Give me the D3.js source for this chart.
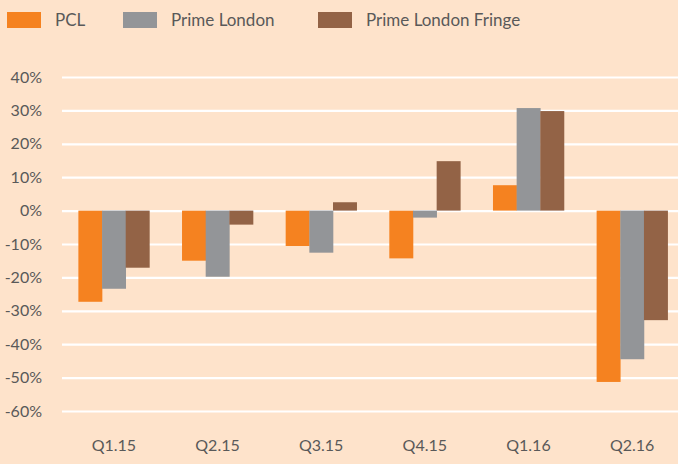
<!DOCTYPE html>
<html>
<head>
<meta charset="utf-8">
<script src="https://cdn.jsdelivr.net/npm/d3@7"></script>
<style>
  html, body { margin: 0; padding: 0; background: #fee3cb; }
  svg { display: block; font-family: Lato, 'Open Sans', sans-serif; }
</style>
</head>
<body>
<svg id="chart" width="678" height="464"></svg>
<script>
// MARK: Data.

const quarters    = ['Q1.15', 'Q2.15', 'Q3.15', 'Q4.15', 'Q1.16', 'Q2.16']
const seriesNames = ['PCL', 'Prime London', 'Prime London Fringe']
const pcl         = [-27.3, -15.0, -10.6, -14.3,  7.6, -51.3]
const primeLondon = [-23.4, -19.8, -12.6,  -2.1, 30.7, -44.5]
const primeFringe = [-17.1,  -4.2,   2.5,  14.8, 29.8, -32.8]
const yTicks      = [40, 30, 20, 10, 0, -10, -20, -30, -40, -50, -60]

const COLORS     = ['#f58220', '#939598', '#936346']
const TEXT_COLOR = '#595959'

const svg    = d3.select('#chart')
const width  = 678

const series = [pcl, primeLondon, primeFringe]
const rows = quarters.map((q, i) => ({
  quarter: q,
  values : series.map((s, k) => ({ key: seriesNames[k], value: s[i] })),
}))

// MARK: Scales.

const x0 = d3.scaleBand()
  .domain(quarters)
  .range([62, 684])
  .paddingInner(0.315)
  .paddingOuter(0.158)

const x1 = d3.scaleBand()
  .domain(seriesNames)
  .range([0, x0.bandwidth()])

const y = d3.scaleLinear()
  .domain([-60, 40])
  .range([411, 77])

const color = d3.scaleOrdinal().domain(seriesNames).range(COLORS)

// MARK: Gridlines and y labels.

const yAxis = svg.append('g')
  .attr('transform', 'translate(62,0)')
  .call(d3.axisLeft(y).tickValues(yTicks).tickSize(-(width - 62)).tickPadding(20)
    .tickFormat((d) => d + '%'))
yAxis.select('.domain').remove()
yAxis.selectAll('line')
  .attr('stroke', '#ffffff')
  .attr('stroke-width', 2.2)
yAxis.selectAll('text')
  .attr('fill', TEXT_COLOR)
  .attr('font-size', 16)
  .attr('font-family', 'Lato, sans-serif')

// MARK: Bars.

const groups = svg.append('g').selectAll('g')
  .data(rows).enter()
  .append('g')
    .attr('transform', (d) => `translate(${x0(d.quarter)},0)`)

groups.selectAll('rect')
  .data((d) => d.values).enter()
  .append('rect')
    .attr('x'     , (d) => x1(d.key))
    .attr('width' , x1.bandwidth() + 0.3)
    .attr('y'     , (d) => y(Math.max(0, d.value)))
    .attr('height', (d) => Math.abs(y(d.value) - y(0)))
    .attr('fill'  , (d) => color(d.key))

// MARK: x labels.

const xAxis = svg.append('g')
  .attr('transform', 'translate(0,440)')
  .call(d3.axisBottom(x0).tickSize(0).tickPadding(0))
xAxis.select('.domain').remove()
xAxis.selectAll('text')
  .attr('fill', TEXT_COLOR)
  .attr('font-size', 16)
  .attr('font-family', 'Lato, sans-serif')
  .attr('dy', '0.71em')

// MARK: Legend.

const legendX = [7, 123, 318]
const legend = svg.append('g').selectAll('g')
  .data(seriesNames).enter()
  .append('g')
    .attr('transform', (d, i) => `translate(${legendX[i]},12)`)
legend.append('rect')
  .attr('width' , 34)
  .attr('height', 16)
  .attr('fill'  , (d) => color(d))
legend.append('text')
  .attr('x', 48)
  .attr('y', 14)
  .attr('fill', TEXT_COLOR)
  .attr('font-size', 17)
  .text((d) => d)
</script>
</body>
</html>
